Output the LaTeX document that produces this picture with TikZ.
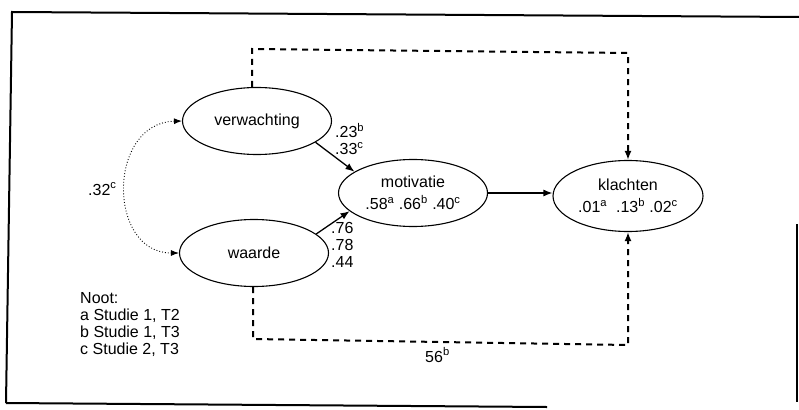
\documentclass[tikz,border=0pt]{standalone}
\usepackage{fontspec}
\setmainfont{Liberation Sans}
\usetikzlibrary{arrows.meta,shapes.geometric}
\newcommand{\sps}[1]{\textsuperscript{#1}}
\begin{document}
\begin{tikzpicture}[x=1pt,y=-1pt,
  lat/.style={ellipse,draw,line width=1.1pt,minimum width=149pt,minimum height=67pt,inner sep=0pt,align=center,font=\fontsize{16}{22}\selectfont},
  lbl/.style={inner sep=0pt,align=left,font=\fontsize{16}{17}\selectfont},
  solidarr/.style={line width=1.3pt,-{Latex[length=9pt,width=7pt]}},
  dasharr/.style={line width=2pt,dash pattern=on 6pt off 5pt,-{Latex[length=9pt,width=7pt]}},
  dotarr/.style={line width=0.9pt,dotted,{Latex[length=8pt,width=6pt]}-{Latex[length=8pt,width=6pt]}},
  frame/.style={line width=2pt}]
\useasboundingbox (0,0) rectangle (799,409);
% frame
\draw[frame] (6,403) -- (12,12) -- (799,17);
\draw[frame] (6,403) -- (547,407);
\draw[frame] (797,224) -- (797,402);
% nodes
\node[lat] (verw) at (257,121) {verwachting};
\node[lat] (waard) at (254,253) {waarde};
\node[lat] (motiv) at (413,193) {motivatie\\.58\sps{a} .66\sps{b} .40\sps{c}};
\node[lat,minimum width=150pt,minimum height=71pt] (klach) at (628,196) {klachten\\.01\sps{a}\ \ .13\sps{b} .02\sps{c}};
% solid arrows
\draw[solidarr] (verw.-20) -- (motiv.160);
\draw[solidarr] (waard.17) -- (motiv.196);
\draw[solidarr] (motiv.east) -- (motiv.east -| klach.west);
% dotted covariance
\draw[dotarr] (verw.west) .. controls (107,123) and (107,253) .. (waard.west);
% dashed paths
\coordinate (c1) at (252,49);
\coordinate (c2) at (628,53);
\coordinate (c3) at (253,339);
\coordinate (c4) at (628,345);
\draw[dasharr] (verw.north -| c1) -- (c1) -- (c2) -- (klach.north);
\draw[dasharr] (waard.south -| c3) -- (c3) -- (c4) -- (klach.south);
% labels
\node[lbl,anchor=west] (l1) at (335,139) {.23\sps{b}\\.33\sps{c}};
\node[lbl,anchor=west] (l2) at (88,189) {.32\sps{c}};
\node[lbl,anchor=west] (l3) at (331,245) {.76\\.78\\.44};
\node[lbl,anchor=west] (l4) at (425,355) {56\sps{b}};
\node[lbl,anchor=north west] (noot) at (80,292) {Noot:\\a Studie 1, T2\\b Studie 1, T3\\c Studie 2, T3};
\end{tikzpicture}
\end{document}
